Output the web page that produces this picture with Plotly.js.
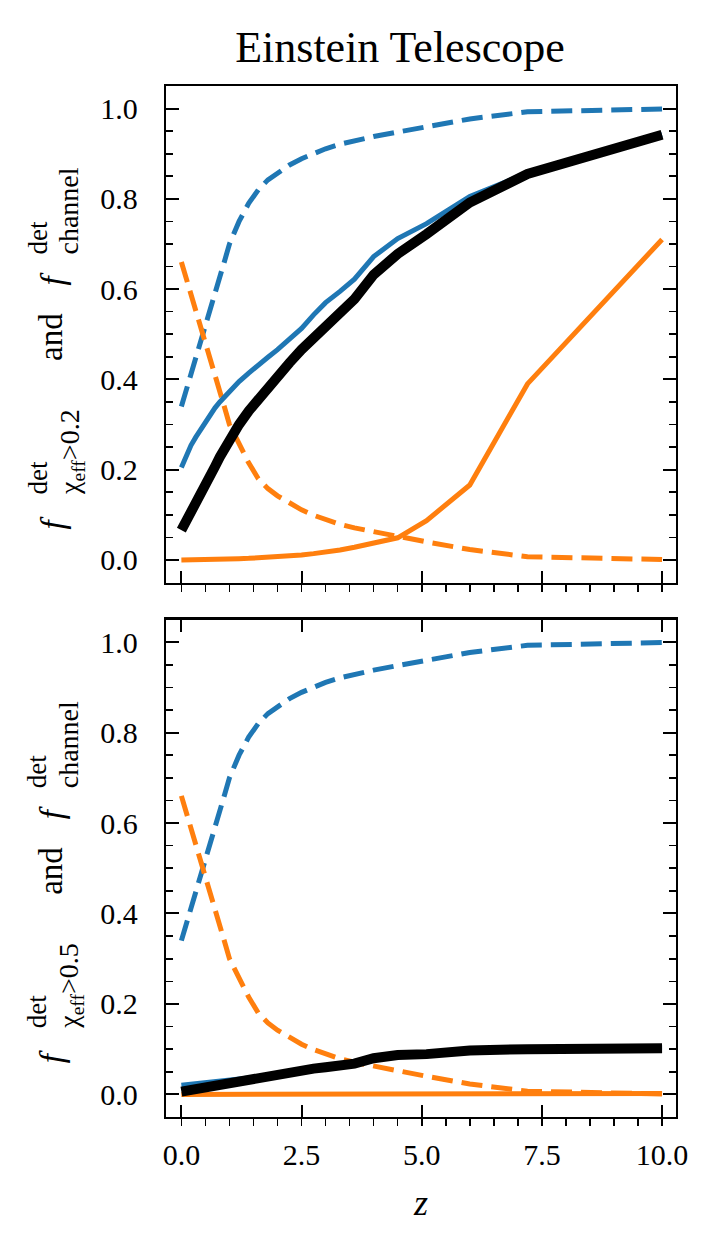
<!DOCTYPE html>
<html>
<head>
<meta charset="utf-8">
<script src="https://cdn.plot.ly/plotly-3.0.1.min.js"></script>
<style>html,body{margin:0;padding:0;background:#fff;}</style>
</head>
<body>
<div id="chart" style="width:722px;height:1253px;"></div>
<script>
// ---------------- data ----------------
const z = [0, 0.1, 0.2, 0.3, 0.4, 0.5, 0.6, 0.7, 0.8, 0.9, 1.0, 1.2, 1.4, 1.6, 1.8, 2.0, 2.25, 2.5, 2.75, 3.0, 3.3, 3.6, 4.0, 4.5, 5.1, 6.0, 7.2, 10.0];

// channel fractions (dashed, same in both panels)
const channelBlue   = [0.34, 0.375, 0.41, 0.445, 0.48, 0.515, 0.55, 0.588, 0.625, 0.663, 0.70, 0.75, 0.79, 0.82, 0.842, 0.858, 0.875, 0.889, 0.901, 0.911, 0.921, 0.929, 0.938, 0.948, 0.96, 0.977, 0.993, 0.999];
const channelOrange = [0.66, 0.625, 0.59, 0.555, 0.52, 0.485, 0.45, 0.412, 0.375, 0.337, 0.30, 0.255, 0.215, 0.18, 0.158, 0.142, 0.125, 0.111, 0.099, 0.089, 0.079, 0.071, 0.062, 0.052, 0.04, 0.023, 0.007, 0.001];

// chi_eff > 0.2 (top panel)
const top02Blue   = [0.205, 0.232, 0.254, 0.272, 0.289, 0.305, 0.322, 0.337, 0.35, 0.362, 0.374, 0.395, 0.414, 0.433, 0.449, 0.466, 0.488, 0.513, 0.543, 0.57, 0.595, 0.622, 0.672, 0.712, 0.745, 0.805, 0.857, 0.942];
const top02Orange = [0.0, 0.0, 0.0, 0.0003, 0.0005, 0.0007, 0.001, 0.0012, 0.0015, 0.0018, 0.002, 0.0027, 0.0035, 0.0045, 0.0057, 0.007, 0.009, 0.011, 0.014, 0.017, 0.022, 0.028, 0.038, 0.049, 0.087, 0.166, 0.39, 0.71];
const top02Total  = [0.066, 0.085, 0.103, 0.12, 0.14, 0.163, 0.185, 0.207, 0.228, 0.248, 0.266, 0.30, 0.33, 0.357, 0.38, 0.405, 0.437, 0.466, 0.49, 0.515, 0.546, 0.578, 0.632, 0.678, 0.722, 0.792, 0.855, 0.942];

// chi_eff > 0.5 (bottom panel)
const bot05Blue   = [0.02, 0.021, 0.022, 0.023, 0.024, 0.025, 0.026, 0.027, 0.028, 0.029, 0.03, 0.033, 0.036, 0.039, 0.043, 0.046, 0.05, 0.054, 0.058, 0.061, 0.065, 0.069, 0.081, 0.088, 0.09, 0.098, 0.101, 0.103];
const bot05Orange = [0.0, 0.0, 0.0, 0.0, 0.0, 0.0, 0.0, 0.0, 0.0, 0.0, 0.0, 0.0, 0.0, 0.0, 0.0, 0.0, 0.0, 0.0, 0.0, 0.0, 0.0001, 0.0001, 0.0002, 0.0003, 0.0004, 0.0006, 0.001, 0.002];
const bot05Total  = [0.006, 0.008, 0.01, 0.012, 0.014, 0.016, 0.018, 0.02, 0.022, 0.024, 0.026, 0.03, 0.034, 0.038, 0.042, 0.045, 0.049, 0.053, 0.057, 0.06, 0.064, 0.068, 0.08, 0.087, 0.089, 0.097, 0.10, 0.102];

const xTickVals = [0, 2.5, 5, 7.5, 10];
const xTickText = ['0.0', '2.5', '5.0', '7.5', '10.0'];
const yTickVals = [0, 0.2, 0.4, 0.6, 0.8, 1.0];
const yTickText = ['0.0', '0.2', '0.4', '0.6', '0.8', '1.0'];

const titleText = 'Einstein Telescope';
const xLabel = '<i>z</i>';
const thresholds = ['0.2', '0.5'];

// ---------------- style ----------------
const BLUE = '#1f77b4', ORANGE = '#ff7f0e', BLACK = '#000000';
const FONT = 'Liberation Serif, Times New Roman, serif';
const DASH = '21px,9px';
const W = 722, H = 1253;
const M = {l: 166, r: 46, t: 86, b: 136};
const PW = W - M.l - M.r, PH = H - M.t - M.b;

function line(x, y, xa, ya, color, width, dash) {
  return {x: x, y: y, xaxis: xa, yaxis: ya, type: 'scatter', mode: 'lines',
          line: {color: color, width: width, dash: dash || 'solid'},
          hoverinfo: 'skip', showlegend: false};
}

const traces = [
  // top panel
  line(z, channelBlue, 'x2', 'y2', BLUE, 5, DASH),
  line(z, channelOrange, 'x2', 'y2', ORANGE, 5, DASH),
  line(z, top02Blue, 'x2', 'y2', BLUE, 5),
  line(z, top02Orange, 'x2', 'y2', ORANGE, 5),
  line(z, top02Total, 'x2', 'y2', BLACK, 10),
  // bottom panel
  line(z, channelBlue, 'x', 'y', BLUE, 5, DASH),
  line(z, channelOrange, 'x', 'y', ORANGE, 5, DASH),
  line(z, bot05Blue, 'x', 'y', BLUE, 5),
  line(z, bot05Orange, 'x', 'y', ORANGE, 5),
  line(z, bot05Total, 'x3', 'y', BLACK, 10)
];

const tickFont = {family: FONT, size: 30, color: '#000'};
const xRange = [-0.32, 10.29];
const yRange = [-0.05, 1.05];

const xBase = {
  range: xRange, tickmode: 'array', tickvals: xTickVals, ticktext: xTickText,
  ticks: 'inside', ticklen: 12, tickwidth: 2, tickcolor: '#000',
  showline: true, linewidth: 2.3, linecolor: '#000',
  showgrid: false, zeroline: false, tickfont: tickFont,
  minor: {ticks: 'outside', tick0: 0, dtick: 0.5, ticklen: 7, tickwidth: 1.6, tickcolor: '#000'}
};
const yBase = {
  range: yRange, tickmode: 'array', tickvals: yTickVals, ticktext: yTickText,
  ticks: 'inside', ticklen: 13, tickwidth: 2, tickcolor: '#000',
  showline: true, linewidth: 2.3, linecolor: '#000', mirror: 'ticks',
  showgrid: false, zeroline: false, tickfont: tickFont, ticklabelstandoff: 20,
  minor: {ticks: 'inside', tick0: 0, dtick: 0.05, ticklen: 7, tickwidth: 1.6, tickcolor: '#000'}
};

const topPanel = [85.7, 582.5], botPanel = [619.5, 1117];
function ydom(p) { return [(H - M.b - p[1]) / PH, (H - M.b - p[0]) / PH]; }

const layout = {
  width: W, height: H, margin: M,
  paper_bgcolor: '#fff', plot_bgcolor: '#fff', showlegend: false,
  title: {text: titleText, font: {family: FONT, size: 44, color: '#000'},
          x: (400 - M.l) / PW, xref: 'paper', xanchor: 'center',
          y: 1 - 47 / H, yref: 'container', yanchor: 'middle'},
  xaxis: Object.assign({}, xBase, {anchor: 'y', showticklabels: true, ticklabelstandoff: 10,
          title: {text: xLabel, font: {family: FONT, size: 36, color: '#000'}, standoff: 20}}),
  xaxis2: Object.assign({}, xBase, {anchor: 'y2', matches: 'x', showticklabels: false, mirror: true}),
  xaxis3: {range: xRange, overlaying: 'x', side: 'top', anchor: 'y', tickmode: 'array', tickvals: xTickVals,
           ticks: 'inside', ticklen: 12, tickwidth: 2, tickcolor: '#000', showticklabels: false,
           showline: true, linewidth: 2.3, linecolor: '#000', showgrid: false, zeroline: false},
  yaxis: Object.assign({}, yBase, {domain: ydom(botPanel), anchor: 'x'}),
  yaxis2: Object.assign({}, yBase, {domain: ydom(topPanel), anchor: 'x2'}),
  annotations: []
};

// y-axis labels built from pieces (stacked super/subscripts), rotated -90;
// py = pixel where the piece starts (reading bottom to top)
function pp(px, py) { return {x: (px - M.l) / PW, y: (H - M.b - py) / PH}; }
function addPiece(text, px, py, size) {
  const p = pp(px, py);
  layout.annotations.push({text: text, x: p.x, y: p.y, xref: 'paper', yref: 'paper',
    xanchor: 'center', yanchor: 'bottom', textangle: -90, showarrow: false, borderpad: 0,
    font: {family: FONT, size: size, color: '#000'}});
}
function yLabel(dy, thr) {
  addPiece('<i>f</i>', 52, 531 + dy, 33);
  addPiece('det', 37, 496 + dy, 27);
  addPiece('χ<sub>eff</sub>&gt;' + thr, 71, 496 + dy, 28);
  addPiece('and', 51, 362 + dy, 33);
  addPiece('<i>f</i>', 52, 287 + dy, 33);
  addPiece('det', 37, 256 + dy, 27);
  addPiece('channel', 68, 256 + dy, 28);
}
yLabel(0, thresholds[0]);
yLabel(botPanel[0] - topPanel[0], thresholds[1]);

Plotly.newPlot('chart', traces, layout, {displayModeBar: false, staticPlot: true});
</script>
</body>
</html>
